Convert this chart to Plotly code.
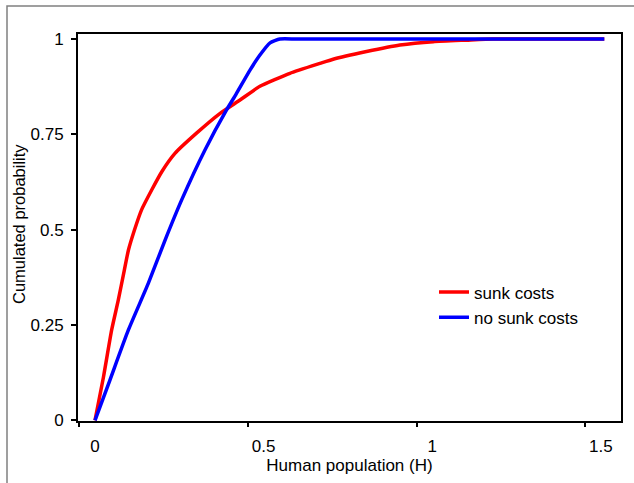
import plotly.graph_objects as go

# Data
sunk_x = [0, 0.025, 0.0494, 0.069, 0.087, 0.099, 0.117, 0.138, 0.168, 0.198, 0.237, 0.301,
          0.371, 0.43, 0.489, 0.578, 0.667, 0.706, 0.805, 0.904, 1.003, 1.102, 1.18, 1.30, 1.51]
sunk_y = [0, 0.113, 0.237, 0.315, 0.394, 0.446, 0.499, 0.552, 0.604, 0.652, 0.700, 0.753,
          0.805, 0.84, 0.876, 0.91, 0.936, 0.947, 0.967, 0.984, 0.993, 0.997, 1.0, 1.0, 1.0]
nosunk_x = [0, 0.044, 0.099, 0.158, 0.2075, 0.257, 0.326, 0.39, 0.418, 0.46, 0.489, 0.519,
            0.548, 0.60, 1.51]
nosunk_y = [0, 0.105, 0.237, 0.359, 0.472, 0.578, 0.709, 0.814, 0.855, 0.919, 0.958, 0.99,
            1.0, 1.0, 1.0]

x_tick_vals = [0, 0.5, 1, 1.5]
x_tick_text = ["0", "0.5", "1", "1.5"]
y_tick_vals = [0, 0.25, 0.5, 0.75, 1]
y_tick_text = ["0", "0.25", "0.5", "0.75", "1"]

FONT = "Liberation Sans, Arial, sans-serif"
FS = 17
XR = [-0.0504, 1.5595]
YR = [-0.0018, 1.0131]

fig = go.Figure()
fig.add_trace(go.Scatter(x=sunk_x, y=sunk_y, mode="lines", name="sunk costs",
                         line=dict(color="#ff0000", width=3.5, shape="spline", smoothing=0.5),
                         legendgroup="a"))
fig.add_trace(go.Scatter(x=nosunk_x, y=nosunk_y, mode="lines", name="no sunk costs",
                         line=dict(color="#0000ff", width=3.5, shape="spline", smoothing=0.5),
                         legendgroup="b"))
# invisible trace to carry the secondary x axis with offset tick marks
fig.add_trace(go.Scatter(x=[XR[0]], y=[0], xaxis="x2", mode="markers",
                         marker=dict(opacity=0), showlegend=False, hoverinfo="skip"))

tick_marks = [v - 0.046 for v in x_tick_vals]

fig.update_layout(
    width=634, height=483,
    margin=dict(l=78, r=13, t=34, b=62),
    paper_bgcolor="white", plot_bgcolor="white",
    font=dict(family=FONT, size=FS, color="black"),
    xaxis=dict(range=XR, tickvals=x_tick_vals, ticktext=x_tick_text,
               showgrid=False, zeroline=False, showline=True, linecolor="black",
               linewidth=2, mirror=True, ticks="outside", ticklen=9,
               tickcolor="rgba(0,0,0,0)",
               title=dict(text="Human population (H)", font=dict(size=FS), standoff=2)),
    xaxis2=dict(range=XR, overlaying="x", side="bottom", tickvals=tick_marks,
                showticklabels=False, ticks="outside", ticklen=5, tickwidth=1.5,
                tickcolor="black", showgrid=False, zeroline=False, showline=False),
    yaxis=dict(range=YR, tickvals=y_tick_vals, ticktext=y_tick_text,
               showgrid=False, zeroline=False, showline=True, linecolor="black",
               linewidth=2, mirror=True, ticks="outside", ticklen=5, tickwidth=1.5,
               tickcolor="black", ticklabelstandoff=4),
    legend=dict(x=(434 - 78) / 543, y=(421 - 305) / 387, xanchor="left", yanchor="middle",
                bgcolor="rgba(0,0,0,0)", font=dict(size=FS), tracegroupgap=0,
                traceorder="grouped"),
    showlegend=True,
    annotations=[dict(text="Cumulated probability", textangle=-90, xref="paper", yref="paper",
                      x=(19 - 78) / 543, y=(421 - 224) / 387, showarrow=False,
                      xanchor="center", yanchor="middle", font=dict(size=16.5))],
    shapes=[dict(type="rect", xref="paper", yref="paper",
                 x0=(7 - 78) / 543, x1=1.2, y0=-0.3, y1=(421 - 6) / 387,
                 line=dict(color="#808080", width=1.5), fillcolor="rgba(0,0,0,0)",
                 layer="below")],
)

fig.write_html("out.html")
